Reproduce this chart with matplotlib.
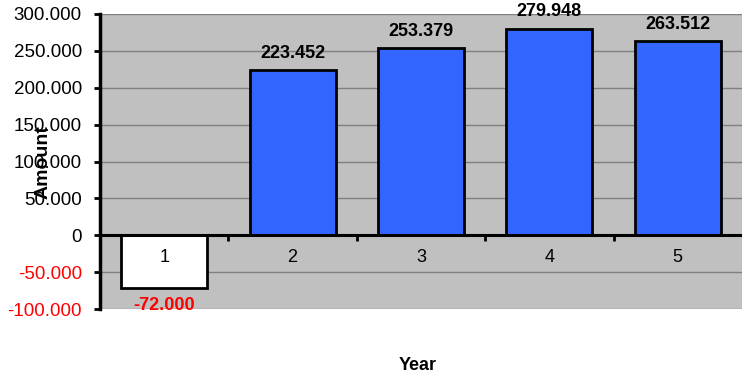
import matplotlib.pyplot as plt
from matplotlib.ticker import FixedLocator

plt.rcParams['font.family'] = ['Liberation Sans', 'DejaVu Sans']

years = [1, 2, 3, 4, 5]
amounts = [-72000, 223452, 253379, 279948, 263512]
bar_colors = ['white', '#3366FF', '#3366FF', '#3366FF', '#3366FF']
yticks = [-100000, -50000, 0, 50000, 100000, 150000, 200000, 250000, 300000]


def fmt(v):
    return f"{v:,.0f}".replace(',', '.')


fig = plt.figure(figsize=(7.42, 3.79), dpi=100)
ax = fig.add_axes([100 / 742, 1 - 309 / 379, 1 - 100 / 742, (309 - 14) / 379])
ax.set_facecolor('#C0C0C0')

ax.bar(years, amounts, width=0.67, color=bar_colors, edgecolor='black',
       linewidth=2, zorder=3)

ax.set_xlim(0.5, 5.5)
ax.set_ylim(-100000, 300000)

# gridlines
ax.set_yticks(yticks)
ax.yaxis.grid(True, color='#808080', linewidth=1, zorder=0)
ax.set_axisbelow(True)
ax.set_yticklabels([fmt(v) for v in yticks], fontsize=13.5)
for lbl, v in zip(ax.get_yticklabels(), yticks):
    lbl.set_color('red' if v < 0 else 'black')
ax.tick_params(axis='y', direction='out', length=4, width=2, pad=9)

# x axis along zero
ax.spines['bottom'].set_position(('data', 0))
ax.spines['bottom'].set_linewidth(2.2)
ax.spines['bottom'].set_zorder(4)
ax.spines['left'].set_linewidth(2.5)
ax.spines['top'].set_visible(False)
ax.spines['right'].set_visible(False)
ax.xaxis.set_major_locator(FixedLocator([1.5, 2.5, 3.5, 4.5]))
ax.xaxis.set_major_formatter(plt.NullFormatter())
ax.tick_params(axis='x', which='major', direction='out', length=4, width=2)

# category labels just under the zero line
for x in years:
    ax.annotate(str(x), (x, 0), xytext=(0, -16), textcoords='offset points',
                ha='center', va='center', fontsize=13, zorder=5)

# value labels
for x, v in zip(years, amounts):
    if v >= 0:
        ax.annotate(fmt(v), (x, v), xytext=(0, 6), textcoords='offset points',
                    ha='center', va='bottom', fontsize=13, fontweight='bold')
    else:
        ax.annotate(fmt(v), (x, v), xytext=(0, -6), textcoords='offset points',
                    ha='center', va='top', fontsize=13, fontweight='bold',
                    color='red')

fig.text(43 / 742, 1 - 162 / 379, 'Amount', rotation=90, ha='center',
         va='center', fontsize=14, fontweight='bold')
fig.text(418 / 742, 1 - 366 / 379, 'Year', ha='center', va='center',
         fontsize=13, fontweight='bold')

fig.savefig('out.png', dpi=100)
